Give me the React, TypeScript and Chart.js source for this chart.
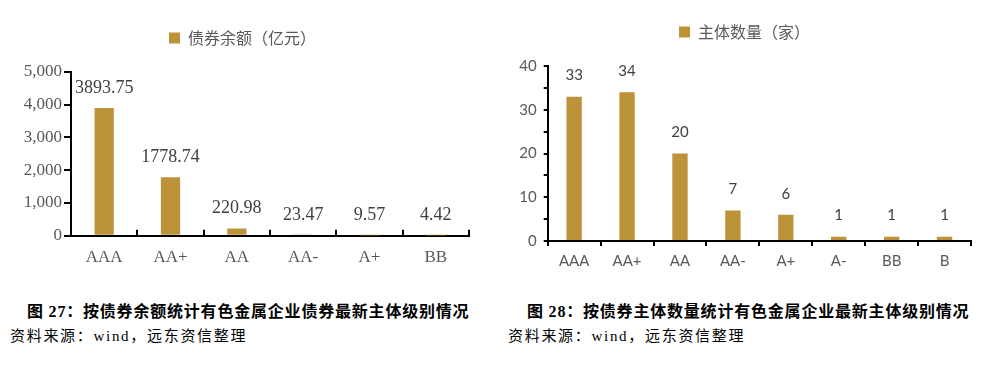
import React, { useEffect, useRef } from 'react';
import { Chart, registerables } from 'chart.js';

Chart.register(...registerables);

// ---- data ----
const balanceCategories = ['AAA', 'AA+', 'AA', 'AA-', 'A+', 'BB'];
const balanceValues = [3893.75, 1778.74, 220.98, 23.47, 9.57, 4.42];
const balanceLabel = '债券余额（亿元）';

const countCategories = ['AAA', 'AA+', 'AA', 'AA-', 'A+', 'A-', 'BB', 'B'];
const countValues = [33, 34, 20, 7, 6, 1, 1, 1];
const countLabel = '主体数量（家）';

const captionLeft = '图 27：按债券余额统计有色金属企业债券最新主体级别情况';
const captionRight = '图 28：按债券主体数量统计有色金属企业最新主体级别情况';
const sourceText = '资料来源：wind，远东资信整理';

const BAR_COLOR = '#BD9339';
const GREY = '#595959';
const DARK = '#404040';

const valueLabels = (font: string, fmt: (v: number) => string, offset: number) => ({
  id: 'valueLabels',
  afterDatasetsDraw(chart: any) {
    const ctx = chart.ctx;
    const meta = chart.getDatasetMeta(0);
    const data = chart.data.datasets[0].data as number[];
    ctx.save();
    ctx.font = font;
    ctx.fillStyle = DARK;
    ctx.textAlign = 'center';
    ctx.textBaseline = 'middle';
    meta.data.forEach((bar: any, i: number) => {
      ctx.fillText(fmt(data[i]), bar.x, bar.y - offset);
    });
    ctx.restore();
  },
});

const legendSpacer = (extra: number) => ({
  id: 'legendSpacer',
  beforeInit(chart: any) {
    const lg = chart.legend;
    if (!lg) return;
    const orig = lg.fit;
    lg.fit = function () {
      orig.call(this);
      this.height += extra;
    };
  },
});

function LeftChart() {
  const ref = useRef<HTMLCanvasElement>(null);
  useEffect(() => {
    const serif = '"Liberation Serif", "Times New Roman", serif';
    const chart = new Chart(ref.current!, {
      type: 'bar',
      data: {
        labels: balanceCategories,
        datasets: [
          {
            label: balanceLabel,
            data: balanceValues,
            backgroundColor: BAR_COLOR,
            borderWidth: 0,
            barPercentage: 0.29,
            categoryPercentage: 1,
          },
        ],
      },
      options: {
        responsive: false,
        animation: false,
        layout: { padding: { left: 16, right: 31, top: 20, bottom: 14.3 } },
        plugins: {
          tooltip: { enabled: false },
          legend: {
            display: true,
            position: 'top',
            labels: {
              boxWidth: 11,
              boxHeight: 11,
              padding: 10,
              color: GREY,
              font: { size: 16, family: '"Noto Sans CJK SC", sans-serif' },
            },
          },
        },
        scales: {
          x: {
            grid: {
              display: true,
              drawOnChartArea: false,
              drawTicks: true,
              tickLength: -6,
              color: '#000',
              lineWidth: 2,
              offset: true,
            },
            border: { display: true, color: '#000', width: 2 },
            ticks: { color: GREY, font: { size: 17, family: serif }, padding: 18 },
            afterFit(scale: any) {
              scale.height = 40;
            },
          },
          y: {
            min: 0,
            max: 5000,
            ticks: {
              stepSize: 1000,
              color: GREY,
              font: { size: 17, family: serif },
              padding: 2,
              callback: (v: any) => Number(v).toLocaleString('en-US'),
            },
            grid: {
              display: true,
              drawOnChartArea: false,
              drawTicks: true,
              tickLength: 7,
              color: '#000',
              lineWidth: 2,
            },
            border: { display: true, color: '#000', width: 2 },
            afterFit(scale: any) {
              scale.width = 55;
            },
          },
        },
      },
      plugins: [
        legendSpacer(15.7),
        valueLabels('18px "Liberation Serif", "Times New Roman", serif', (v) => v.toFixed(2), 20),
      ],
    });
    return () => chart.destroy();
  }, []);
  return (
    <canvas
      ref={ref}
      width={500}
      height={290}
      style={{ position: 'absolute', left: 0, top: 0, width: 500, height: 290 }}
    />
  );
}

function RightChart() {
  const ref = useRef<HTMLCanvasElement>(null);
  useEffect(() => {
    const sans = 'Lato, "Liberation Sans", sans-serif';
    const chart = new Chart(ref.current!, {
      type: 'bar',
      data: {
        labels: countCategories,
        datasets: [
          {
            label: countLabel,
            data: countValues,
            backgroundColor: BAR_COLOR,
            borderWidth: 0,
            barPercentage: 0.29,
            categoryPercentage: 1,
          },
        ],
      },
      options: {
        responsive: false,
        animation: false,
        layout: { padding: { left: 18, right: 28, top: 14, bottom: 9 } },
        plugins: {
          tooltip: { enabled: false },
          legend: {
            display: true,
            position: 'top',
            labels: {
              boxWidth: 11,
              boxHeight: 11,
              padding: 10,
              color: GREY,
              font: { size: 16, family: '"Noto Sans CJK SC", sans-serif' },
            },
          },
        },
        scales: {
          x: {
            grid: {
              display: true,
              drawOnChartArea: false,
              drawTicks: true,
              tickLength: 5,
              color: '#000',
              lineWidth: 2,
              offset: true,
            },
            border: { display: true, color: '#000', width: 2 },
            ticks: { color: GREY, font: { size: 15, family: sans }, padding: 6 },
            afterFit(scale: any) {
              scale.height = 40;
            },
          },
          y: {
            min: 0,
            max: 40,
            ticks: {
              stepSize: 5,
              color: GREY,
              font: { size: 15, family: sans },
              padding: 7,
              autoSkip: false,
              callback: (v: any) => (Number(v) % 10 === 0 ? String(v) : ''),
            },
            grid: {
              display: true,
              drawOnChartArea: false,
              drawTicks: true,
              tickLength: 4,
              color: '#000',
              lineWidth: 2,
            },
            border: { display: true, color: '#000', width: 2 },
            afterFit(scale: any) {
              scale.width = 29.7;
            },
          },
        },
      },
      plugins: [
        legendSpacer(16),
        valueLabels('15px Lato, "Liberation Sans", sans-serif', (v) => String(v), 21),
      ],
    });
    return () => chart.destroy();
  }, []);
  return (
    <canvas
      ref={ref}
      width={499}
      height={290}
      style={{ position: 'absolute', left: 500, top: 0, width: 499, height: 290 }}
    />
  );
}

const captionStyle: React.CSSProperties = {
  position: 'absolute',
  fontFamily: '"Liberation Serif", "Times New Roman", "Noto Sans CJK SC", serif',
  fontWeight: 'bold',
  fontSize: 16,
  lineHeight: '20px',
  color: '#000',
  whiteSpace: 'nowrap',
  letterSpacing: 0.8,
};
const sourceStyle: React.CSSProperties = {
  position: 'absolute',
  fontFamily: '"Liberation Serif", "Times New Roman", "Noto Sans CJK SC", serif',
  fontSize: 15,
  lineHeight: '20px',
  color: '#000',
  whiteSpace: 'nowrap',
  letterSpacing: 1.7,
};

export default function App() {
  return (
    <div
      style={{
        position: 'absolute',
        left: 0,
        top: 0,
        width: 999,
        height: 373,
        background: '#fff',
        overflow: 'hidden',
      }}
    >
      <LeftChart />
      <RightChart />
      <div style={{ ...captionStyle, left: 27, top: 302 }}>{captionLeft}</div>
      <div style={{ ...sourceStyle, left: 10, top: 326 }}>{sourceText}</div>
      <div style={{ ...captionStyle, left: 527, top: 302 }}>{captionRight}</div>
      <div style={{ ...sourceStyle, left: 508, top: 326 }}>{sourceText}</div>
    </div>
  );
}
